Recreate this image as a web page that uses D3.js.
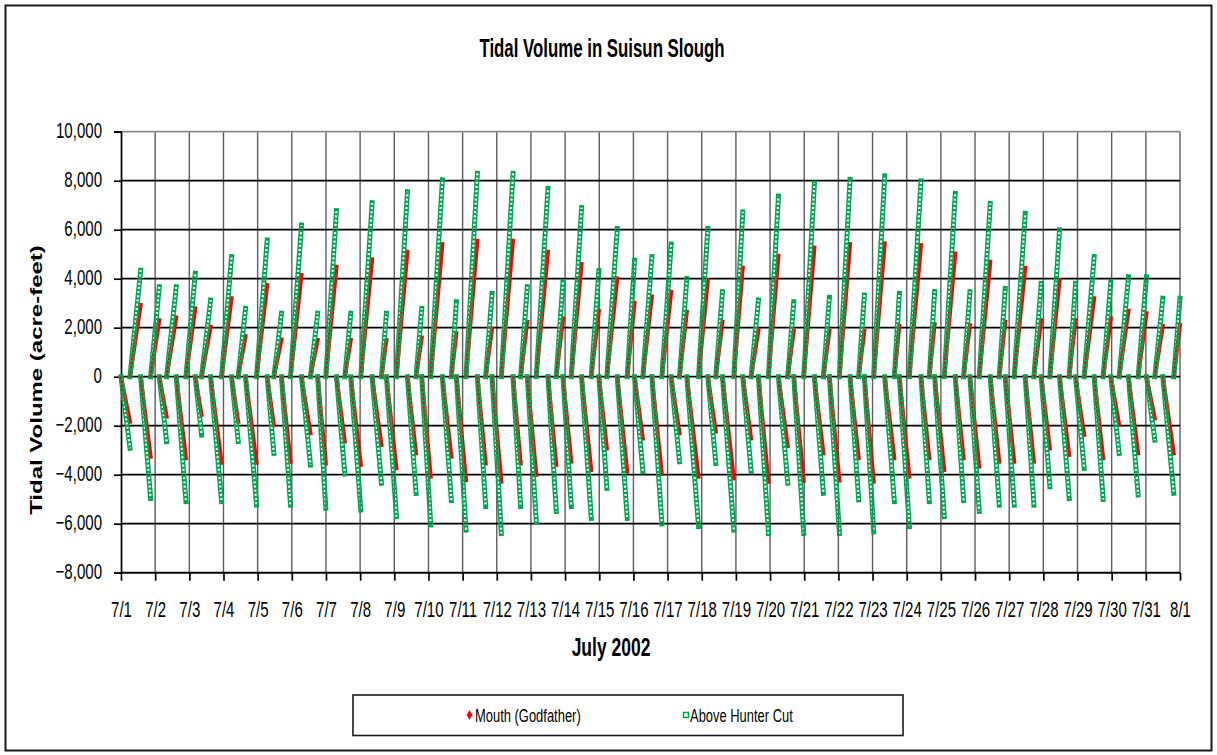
<!DOCTYPE html>
<html>
<head>
<meta charset="utf-8">
<title>Tidal Volume in Suisun Slough</title>
<script src="https://cdn.jsdelivr.net/npm/d3@7"></script>
<style>
  html, body { margin: 0; padding: 0; background: #fff; }
  svg { display: block; }
  text { font-family: "Liberation Sans", Arial, sans-serif; fill: #000; }
</style>
</head>
<body>
<div id="chart"></div>
<script>
// Slack-water times (days after 7/1 00:00) at which the flow reverses;
// each interval between two slacks is one flood (+) or ebb (-) phase.
const slackDays = [
  0, 0.263, 0.575, 0.868, 1.121, 1.336, 1.618, 1.901, 2.174, 2.359,
  2.623, 2.944, 3.237, 3.432, 3.646, 3.968, 4.28, 4.475, 4.699, 4.963,
  5.284, 5.547, 5.757, 5.996, 6.308, 6.552, 6.727, 7.02, 7.351, 7.624,
  7.77, 8.063, 8.385, 8.638, 8.804, 9.067, 9.408, 9.671, 9.818, 10.1,
  10.432, 10.676, 10.861, 11.134, 11.475, 11.699, 11.894, 12.157, 12.499, 12.742,
  12.937, 13.181, 13.483, 13.766, 13.99, 14.224, 14.527, 14.819, 15.034, 15.277,
  15.541, 15.833, 16.106, 16.35, 16.564, 16.906, 17.178, 17.412, 17.607, 17.939,
  18.202, 18.446, 18.66, 18.953, 19.245, 19.518, 19.694, 19.986, 20.298, 20.562,
  20.737, 21.03, 21.342, 21.595, 21.761, 22.034, 22.356, 22.638, 22.784, 23.077,
  23.418, 23.662, 23.818, 24.1, 24.422, 24.666, 24.851, 25.124, 25.446, 25.709,
  25.885, 26.148, 26.47, 26.723, 26.938, 27.191, 27.474, 27.757, 27.942, 28.195,
  28.488, 28.751, 28.975, 29.219, 29.492, 29.775, 30.019, 30.263, 30.497, 30.818,
  31.0
];

// Accumulated volume (acre-feet) reached at the end of each phase.
const mouthVolume = [
  -1840, 2930, -3270, 2310, -1630, 2420, -3330, 2790, -1560, 2040,
  -3510, 3200, -1840, 1660, -3510, 3740, -1970, 1520, -3470, 4150,
  -2310, 1500, -3540, 4490, -2650, 1500, -3600, 4790, -2790, 1500,
  -3740, 5100, -3130, 1600, -4080, 5410, -3270, 1770, -4220, 5550,
  -3540, 1970, -4290, 5550, -3540, 2240, -4010, 5100, -3600, 2380,
  -3470, 4600, -3810, 2680, -2930, 4010, -3880, 3020, -2520, 3270,
  -3970, 3470, -2310, 2650, -4080, 3950, -2240, 2240, -4150, 4450,
  -2520, 1900, -4290, 4930, -2830, 1880, -4260, 5270, -3130, 1880,
  -4240, 5410, -3330, 1880, -4290, 5440, -3330, 2070, -4080, 5370,
  -3330, 2150, -3810, 5030, -3330, 2110, -3670, 4690, -3470, 2240,
  -3470, 4450, -3470, 2310, -2930, 3950, -3200, 2310, -2380, 3200,
  -3330, 2380, -1970, 2690, -3130, 2590, -1700, 2070, -3130, 2110
];

const hunterCutVolume = [
  -2920, 4350, -4970, 3670, -2650, 3670, -5100, 4220, -2380, 3130,
  -5100, 4900, -2650, 2790, -5240, 5580, -3130, 2590, -5240, 6190,
  -3600, 2590, -5370, 6780, -3970, 2590, -5440, 7100, -4350, 2590,
  -5710, 7550, -4760, 2790, -6050, 8030, -5060, 3060, -6260, 8300,
  -5300, 3400, -6400, 8300, -5300, 3670, -5920, 7690, -5500, 3880,
  -5300, 6900, -5780, 4330, -4560, 6050, -5780, 4760, -3880, 4900,
  -6010, 5410, -3470, 4010, -6120, 6050, -3540, 3470, -6260, 6730,
  -3880, 3130, -6400, 7370, -4350, 3060, -6400, 7900, -4760, 3240,
  -6400, 8050, -5030, 3330, -6330, 8200, -5100, 3400, -6120, 7990,
  -5100, 3470, -5710, 7480, -5060, 3470, -5500, 7070, -5240, 3600,
  -5240, 6670, -5240, 3810, -4490, 5990, -4970, 3810, -3740, 4900,
  -5010, 3880, -3130, 4080, -4830, 4080, -2590, 3200, -4760, 3200
];

const yTickValues = [-8000, -6000, -4000, -2000, 0, 2000, 4000, 6000, 8000, 10000];

const dayLabels = [
  "7/1", "7/2", "7/3", "7/4", "7/5", "7/6", "7/7", "7/8", "7/9", "7/10",
  "7/11", "7/12", "7/13", "7/14", "7/15", "7/16", "7/17", "7/18", "7/19", "7/20",
  "7/21", "7/22", "7/23", "7/24", "7/25", "7/26", "7/27", "7/28", "7/29", "7/30",
  "7/31", "8/1"
];

const seriesNames = ["Mouth (Godfather)", "Above Hunter Cut"];

// ---------------------------------------------------------------------------
const W = 1217, H = 755;
const plot = { left: 121, right: 1180, top: 131.7, bottom: 572.7 };
const RED = "#ff0000", GREEN = "#00a651";
const NARROW = 0.7;   // horizontal squeeze applied to all lettering

const svg = d3.select("#chart").append("svg")
  .attr("width", W).attr("height", H);

const x = d3.scaleLinear().domain([0, dayLabels.length - 1]).range([plot.left, plot.right]);
const y = d3.scaleLinear().domain([-8000, 10000]).range([plot.bottom, plot.top]);

// outer chart frame
svg.append("rect")
  .attr("x", 5.5).attr("y", 5.5).attr("width", 1206).attr("height", 745)
  .attr("fill", "#fff").attr("stroke", "#1a1a1a").attr("stroke-width", 2);

function label(parent, str, px, py, opts) {
  const o = Object.assign({ size: 20, weight: "normal", anchor: "start", sx: NARROW, rotate: 0 }, opts);
  return parent.append("text")
    .attr("transform", `translate(${px},${py}) scale(${o.sx},1)` + (o.rotate ? ` rotate(${o.rotate})` : ""))
    .attr("font-size", o.size).attr("font-weight", o.weight)
    .attr("text-anchor", o.anchor)
    .text(str);
}

// title and axis titles
label(svg, "Tidal Volume in Suisun Slough", 602, 57, { size: 25.5, weight: "bold", anchor: "middle", sx: 0.66 });
label(svg, "July 2002", 611, 656, { size: 25, weight: "bold", anchor: "middle" });
label(svg, "Tidal Volume (acre-feet)", 42, 380, { size: 24, weight: "bold", anchor: "middle", rotate: -90 });

// gridlines
const grid = svg.append("g");
grid.selectAll("line.v").data(d3.range(1, dayLabels.length)).join("line")
  .attr("class", "v")
  .attr("x1", d => x(d)).attr("x2", d => x(d))
  .attr("y1", plot.top).attr("y2", plot.bottom)
  .attr("stroke", "#5e5e5e").attr("stroke-width", 1.4);
grid.selectAll("line.h").data(yTickValues).join("line")
  .attr("class", "h")
  .attr("x1", plot.left).attr("x2", plot.right)
  .attr("y1", d => y(d)).attr("y2", d => y(d))
  .attr("stroke", d => d === 10000 ? "#8a8a8a" : "#000")
  .attr("stroke-width", d => d === -8000 ? 2 : 1.7);

// axes
const yAxis = svg.append("g")
  .attr("transform", `translate(${plot.left},0)`)
  .call(d3.axisLeft(y).tickValues(yTickValues).tickSize(7).tickPadding(12)
    .tickFormat(d3.format(",")));
yAxis.select(".domain").attr("stroke", "#000").attr("stroke-width", 1.7);
yAxis.selectAll(".tick line").attr("stroke", "#000").attr("stroke-width", 1.7);

const xAxis = svg.append("g")
  .attr("transform", `translate(0,${plot.bottom})`)
  .call(d3.axisBottom(x).tickValues(d3.range(dayLabels.length)).tickSize(8)
    .tickFormat(i => dayLabels[i]));
xAxis.select(".domain").remove();
xAxis.selectAll(".tick line").attr("stroke", "#000").attr("stroke-width", 1.7);

// squeeze the tick lettering
yAxis.selectAll(".tick text").each(function () {
  const t = d3.select(this);
  const tx = +t.attr("x");
  t.attr("x", null).attr("dy", null)
    .attr("transform", `translate(${tx},5.5) scale(${NARROW},1)`)
    .attr("font-size", 21.5).attr("font-family", null).attr("fill", "#000");
});
xAxis.selectAll(".tick text").each(function () {
  const t = d3.select(this);
  t.attr("y", null).attr("dy", null)
    .attr("transform", `translate(0,44) scale(${NARROW},1)`)
    .attr("font-size", 21.5).attr("font-family", null).attr("fill", "#000");
});

// one path per flood/ebb phase: volume starts at 0 at slack and ends at the phase total
const phases = vols => vols.map((v, i) => [[slackDays[i], 0], [slackDays[i + 1], v]]);
const line = d3.line().x(d => x(d[0])).y(d => y(d[1]));

// hollow centres of the square markers, so the series underneath shows through
const defs = svg.append("defs");
const mask = defs.append("mask").attr("id", "sq-holes")
  .attr("maskUnits", "userSpaceOnUse")
  .attr("x", 0).attr("y", 0).attr("width", W).attr("height", H);
mask.append("rect").attr("width", W).attr("height", H).attr("fill", "#fff");
mask.selectAll("path").data(phases(hunterCutVolume)).join("path")
  .attr("d", line).attr("fill", "none")
  .attr("stroke", "#000").attr("stroke-width", 2.2)
  .attr("stroke-dasharray", "2 2.2");

svg.append("g").attr("class", "mouth")
  .selectAll("path").data(phases(mouthVolume)).join("path")
  .attr("d", line).attr("fill", "none")
  .attr("stroke", RED).attr("stroke-width", 4)
  .attr("stroke-linecap", "square");

svg.append("g").attr("class", "hunter-cut").attr("mask", "url(#sq-holes)")
  .selectAll("path").data(phases(hunterCutVolume)).join("path")
  .attr("d", line).attr("fill", "none")
  .attr("stroke", GREEN).attr("stroke-width", 5)
  .attr("stroke-linecap", "square");

// legend
const legend = svg.append("g");
legend.append("rect")
  .attr("x", 353).attr("y", 695).attr("width", 550).attr("height", 40.5)
  .attr("fill", "#fff").attr("stroke", "#1a1a1a").attr("stroke-width", 1.6);
legend.append("path")
  .attr("transform", "translate(469.5,715)")
  .attr("d", d3.symbol(d3.symbolDiamond).size(30)())
  .attr("fill", RED);
label(legend, seriesNames[0], 475, 721.5, { size: 18.5 });
legend.append("rect")
  .attr("x", 683.5).attr("y", 712.5).attr("width", 5).attr("height", 5)
  .attr("fill", "none").attr("stroke", GREEN).attr("stroke-width", 1.5);
label(legend, seriesNames[1], 690, 721.5, { size: 18.5 });
</script>
</body>
</html>
